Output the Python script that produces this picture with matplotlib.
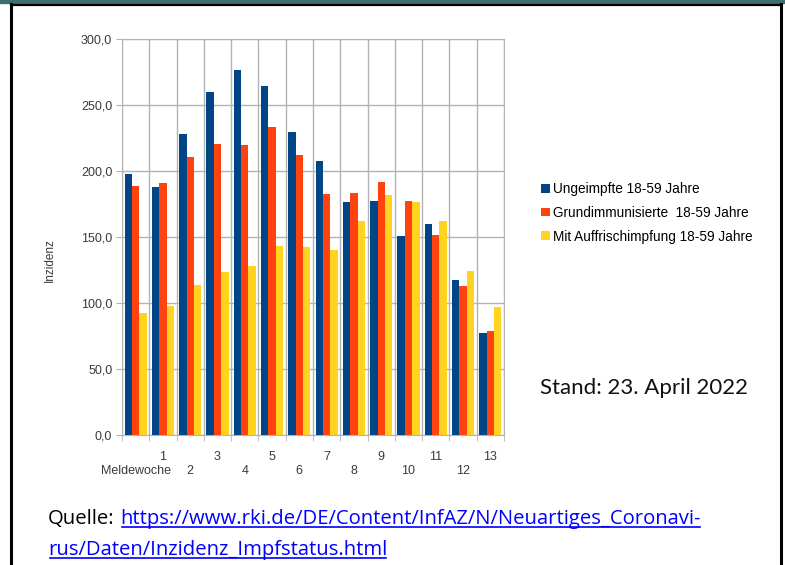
import matplotlib
matplotlib.use('Agg')
import matplotlib.pyplot as plt
import numpy as np
from matplotlib.lines import Line2D
from matplotlib.patches import Rectangle

# Daten
wochen = ["Meldewoche", "1", "2", "3", "4", "5", "6", "7", "8", "9", "10", "11", "12", "13"]
ungeimpft = [197.5, 187.5, 227.6, 259.5, 276.5, 264.0, 229.5, 207.0, 176.5, 177.0, 150.5, 159.5, 117.5, 77.3]
grundimm = [188.6, 190.7, 210.6, 220.2, 219.2, 233.2, 211.8, 182.3, 183.0, 191.7, 176.9, 151.0, 112.8, 78.6]
auffrisch = [92.4, 97.4, 113.4, 123.6, 127.7, 143.0, 142.0, 140.0, 162.0, 181.6, 176.1, 162.0, 124.2, 97.0]
serien = ["Ungeimpfte 18-59 Jahre", "Grundimmunisierte  18-59 Jahre", "Mit Auffrischimpfung 18-59 Jahre"]
farben = ["#004586", "#ff420e", "#ffd320"]
y_ticks = [0, 50, 100, 150, 200, 250, 300]

fig = plt.figure(figsize=(7.85, 5.65), dpi=100)
W, H = 785, 565

# Rahmen
fig.patches.append(Rectangle((0, 1 - 3 / H), 1, 3 / H, transform=fig.transFigure,
                             color="#3b6f6f", zorder=0))
fig.add_artist(Line2D([11 / W, 11 / W], [0, 1 - 4 / H], color="black", lw=2.2, transform=fig.transFigure))
fig.add_artist(Line2D([781 / W, 781 / W], [0, 1 - 4 / H], color="black", lw=2.2, transform=fig.transFigure))
fig.add_artist(Line2D([11 / W, 781 / W], [1 - 4.5 / H, 1 - 4.5 / H], color="black", lw=1.6, transform=fig.transFigure))

ax = fig.add_axes([122 / W, 130.3 / H, 382 / W, 396 / H])

x = np.arange(len(wochen))
bw = 0.27
for i, (vals, name, col) in enumerate(zip([ungeimpft, grundimm, auffrisch], serien, farben)):
    ax.bar(x + (i - 1) * bw, vals, width=bw, color=col, label=name, zorder=3)

ax.set_xlim(-0.5, len(wochen) - 0.5)
ax.set_ylim(0, 300)
ax.set_yticks(y_ticks)
ax.set_yticklabels([f"{v:.1f}".replace(".", ",") for v in y_ticks],
                   fontsize=9, color="#3a3a3a", family="Liberation Sans")

# gestaffelte Beschriftung: ungerade Indizes oben, gerade unten
tick_font = {"fontsize": 9, "color": "#3a3a3a", "family": "Liberation Sans"}
ax.set_xticks(x[1::2])
ax.set_xticklabels(wochen[1::2], **tick_font)
ax.set_xticks(np.arange(-0.5, len(wochen)), minor=True)
ax.tick_params(axis="x", which="major", length=0, pad=12)
ax.tick_params(axis="x", which="minor", length=4, color="#b3b3b3")
ax.tick_params(axis="y", length=4, color="#b3b3b3", pad=3)

sec = ax.secondary_xaxis("bottom")
sec.set_xticks(x[0::2])
sec.set_xticklabels(wochen[0::2], **tick_font)
sec.tick_params(axis="x", length=0, pad=21.5)
sec.spines["bottom"].set_visible(False)

ax.grid(axis="y", color="#b3b3b3", lw=1, zorder=0)
ax.grid(axis="x", which="minor", color="#b3b3b3", lw=1, zorder=0)
for s in ax.spines.values():
    s.set_color("#b3b3b3")

ax.set_ylabel("Inzidenz", fontsize=8.5, color="#3a3a3a", family="Liberation Sans")
ax.yaxis.set_label_coords(-0.173, 0.44)

fig.legend(loc="upper left", bbox_to_anchor=(536 / W, 1 - 177 / H), frameon=False,
           prop={"family": "Liberation Sans", "size": 9.8}, handlelength=0.6, handleheight=0.6,
           handletextpad=0.25, labelspacing=0.7, borderaxespad=0)

fig.text(540 / W, 1 - 388 / H, "Stand: 23. April 2022", fontsize=16, family="Lato",
         va="center", ha="left", color="#111111")

# Quelle
f_q = {"family": "Open Sans", "size": 14.6}
t1 = fig.text(48 / W, 1 - 524 / H, "Quelle:", color="black", va="baseline", **f_q)
fig.canvas.draw()
r = fig.canvas.get_renderer()
bb = t1.get_window_extent(r)
t2 = fig.text((bb.x1 + 6) / W, 1 - 524 / H, "https://www.rki.de/DE/Content/InfAZ/N/Neuartiges_Coronavi-",
              color="#0000ff", va="baseline", **f_q)
t3 = fig.text(48 / W, 1 - 555 / H, "rus/Daten/Inzidenz_Impfstatus.html",
              color="#0000ff", va="baseline", **f_q)
fig.canvas.draw()
for t, yb in [(t2, 524), (t3, 555)]:
    e = t.get_window_extent(r)
    yl = 1 - (yb + 3) / H
    fig.add_artist(Line2D([(e.x0 + 1.5) / W, (e.x1 - 1) / W], [yl, yl], color="#0000ff", lw=1.2,
                          transform=fig.transFigure))

fig.savefig("out.png", dpi=100)
